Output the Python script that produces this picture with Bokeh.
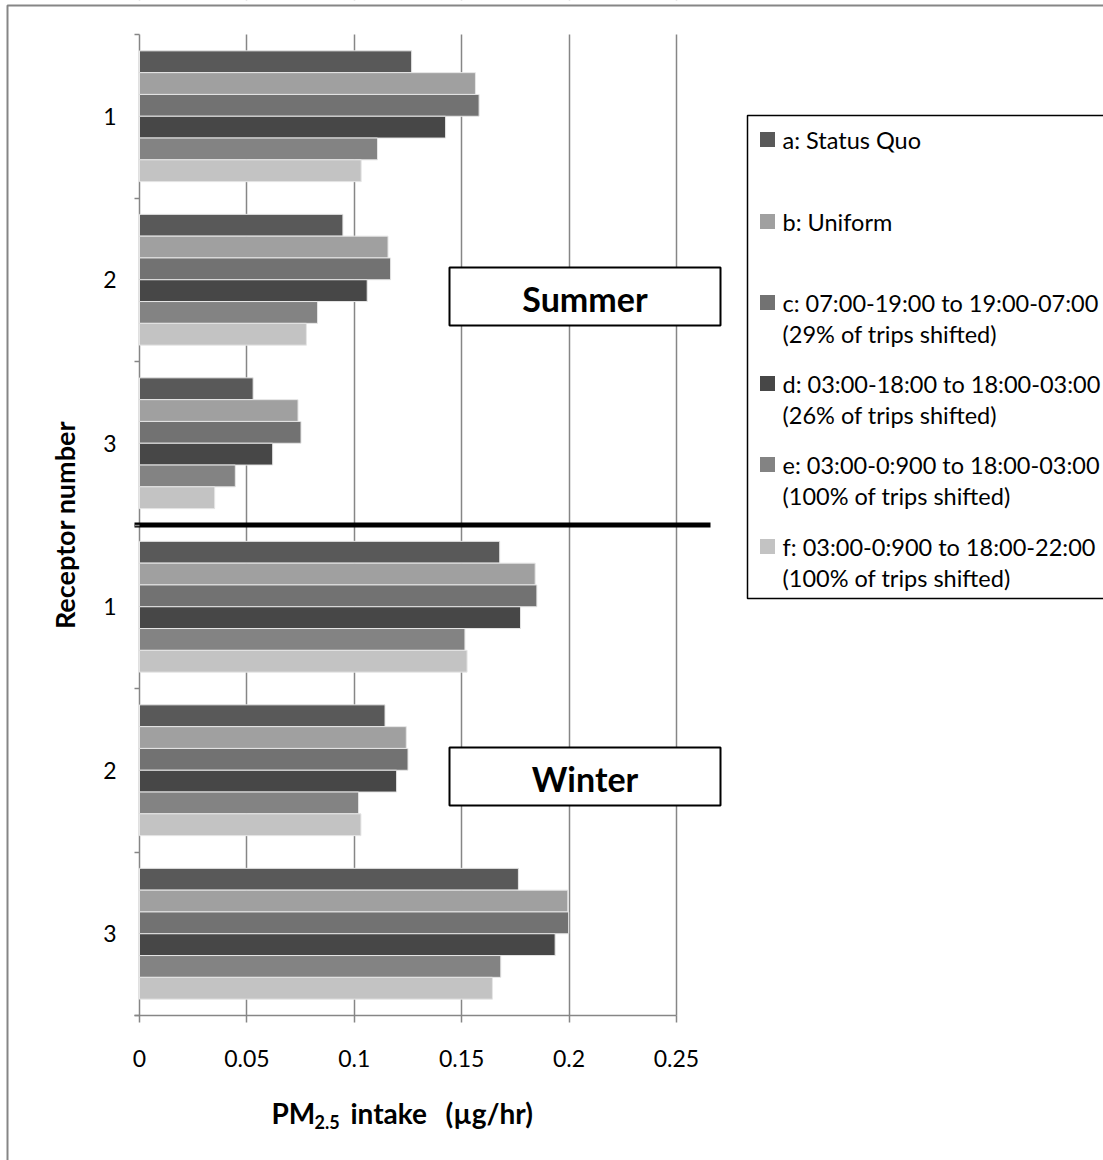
from bokeh.plotting import figure
from bokeh.models import Range1d, FixedTicker, ColumnDataSource, NumeralTickFormatter
from bokeh.core.properties import value
from bokeh.embed import file_html
from bokeh.resources import INLINE

# ---------------- data ----------------
receptors = ["1", "2", "3", "1", "2", "3"]
seasons = ["Summer", "Summer", "Summer", "Winter", "Winter", "Winter"]
series_names = ["a", "b", "c", "d", "e", "f"]
a_status_quo = [0.1267, 0.0947, 0.0529, 0.1677, 0.1143, 0.1764]
b_uniform = [0.1564, 0.1157, 0.0738, 0.1842, 0.1242, 0.1994]
c_0719 = [0.1581, 0.1169, 0.0752, 0.1850, 0.1250, 0.1998]
d_0318 = [0.1425, 0.1060, 0.0620, 0.1774, 0.1197, 0.1935]
e_0309_all = [0.1108, 0.0829, 0.0446, 0.1515, 0.1020, 0.1682]
f_0309_22 = [0.1032, 0.0777, 0.0350, 0.1525, 0.1031, 0.1643]
x_ticks = [0, 0.05, 0.1, 0.15, 0.2, 0.25]
legend_line1 = ["a: Status Quo", "b: Uniform",
                "c: 07:00-19:00 to 19:00-07:00",
                "d: 03:00-18:00 to 18:00-03:00",
                "e: 03:00-0:900 to 18:00-03:00",
                "f: 03:00-0:900 to 18:00-22:00"]
legend_line2 = ["", "", "(29% of trips shifted)", "(26% of trips shifted)",
                "(100% of trips shifted)", "(100% of trips shifted)"]
x_title = ["PM", "2.5", "intake", "(µg/hr)"]
y_title = "Receptor number"

all_series = [a_status_quo, b_uniform, c_0719, d_0318, e_0309_all, f_0309_22]
colors = ["#595959", "#a0a0a0", "#727272", "#474747", "#838383", "#c3c3c3"]

FONT = "Lato"
GRAY = "#868686"
W, H = 1103, 1160

# ---------------- layout helpers (pixel -> data, layout only) ----------------
PX0, PXU = 139.0, 2148.0   # x pixel of value 0, pixels per unit
PY0, PYU = 34.0, 163.5     # y pixel of first category top, pixels per category


def fx(px):
    return (px - PX0) / PXU


def fy(py):
    return (py - PY0) / PYU


p = figure(width=W, height=H, output_backend="svg", toolbar_location=None,
           x_range=Range1d(fx(0), fx(W)), y_range=Range1d(fy(H), fy(0)),
           min_border=0)
p.outline_line_color = None
p.background_fill_color = "white"
p.border_fill_color = "white"

# grid
p.ygrid.visible = False
p.xgrid.ticker = FixedTicker(ticks=x_ticks)
p.xgrid.grid_line_color = GRAY
p.xgrid.grid_line_width = 1.5

# masks so that the grid only spans the plot area
p.quad(left=[fx(0), fx(0)], right=[fx(W), fx(W)], top=[fy(0), 6],
       bottom=[0, fy(H)], fill_color="white", line_color=None)

# x axis (drawn at the bottom of the category area)
xa = p.xaxis[0]
xa.fixed_location = len(receptors)
xa.bounds = (fx(134), 0.25)
xa.ticker = FixedTicker(ticks=x_ticks, minor_ticks=[])
xa.formatter = NumeralTickFormatter(format="0.[00]")
xa.axis_line_color = GRAY
xa.axis_line_width = 1.5
xa.major_tick_line_color = GRAY
xa.major_tick_line_width = 1.5
xa.major_tick_out = 7
xa.major_tick_in = 0
xa.major_label_standoff = 27
xa.major_label_text_font = FONT
xa.major_label_text_font_size = "23px"
xa.major_label_text_color = "black"

# y axis
ya = p.yaxis[0]
ya.fixed_location = fx(134)
centers = [i + 0.5 for i in range(len(receptors))]
ya.bounds = (0, len(receptors))
ya.ticker = FixedTicker(ticks=centers, minor_ticks=list(range(len(receptors) + 1)))
ya.major_label_overrides = {c: r for c, r in zip(centers, receptors)}
ya.axis_line_color = None
ya.major_tick_out = 0
ya.major_tick_in = 0
ya.minor_tick_in = 5
ya.minor_tick_out = 0
ya.minor_tick_line_color = GRAY
ya.minor_tick_line_width = 1.5
ya.major_label_standoff = 18
ya.major_label_text_font = FONT
ya.major_label_text_font_size = "23px"
ya.major_label_text_color = "black"
ya.axis_label = y_title
ya.axis_label_text_font = FONT
ya.axis_label_text_font_style = "bold"
ya.axis_label_text_font_size = "27px"
ya.axis_label_text_color = "black"
ya.axis_label_standoff = 19

# bars
n = len(all_series)
group = 0.8
bh = group / n
for j, (vals, col) in enumerate(zip(all_series, colors)):
    ys = [i + (1 - group) / 2 + (j + 0.5) * bh for i in range(len(vals))]
    src = ColumnDataSource(dict(y=ys, right=vals, rec=receptors, season=seasons))
    p.hbar(y="y", left=0, right="right", height=bh, source=src,
           fill_color=col, line_color="#e6e6e6", line_width=1)

# season separator line
p.segment(x0=[fx(134)], x1=[fx(710)], y0=[3], y1=[3], line_color="black", line_width=5)

# season boxes
box_x = fx((449 + 720) / 2)
box_w = 271 / PXU
box_h = 58 / PYU
season_names = ["Summer", "Winter"]
box_ys = [fy(296), fy(776)]
p.rect(x=[box_x] * 2, y=box_ys, width=box_w, height=box_h,
       fill_color="white", line_color="black", line_width=2)
p.text(x=[box_x] * 2, y=[b + 2 / PYU for b in box_ys], text=season_names,
       text_font=value(FONT), text_font_style="bold", text_font_size="34px",
       text_align="center", text_baseline="middle", text_color="black")

# legend (drawn manually)
p.quad(left=[fx(747)], right=[fx(1200)], top=[fy(115)], bottom=[fy(598)],
       fill_color="white", line_color="black", line_width=1.5)
row_px = [139, 221, 302, 383, 464, 546]
p.scatter(x=[fx(767)] * n, y=[fy(r) for r in row_px], marker="square", size=15,
          fill_color=colors, line_color=None)
p.text(x=[fx(782)] * n, y=[fy(r) for r in row_px], text=legend_line1,
       text_font=value(FONT), text_font_size="23.5px", text_align="left",
       text_baseline="middle", text_color="black")
p.text(x=[fx(782)] * n, y=[fy(r + 31) for r in row_px], text=legend_line2,
       text_font=value(FONT), text_font_size="23.5px", text_align="left",
       text_baseline="middle", text_color="black")

# x axis title with subscript
p.text(x=[fx(271), fx(350), fx(445)], y=[fy(1112)] * 3,
       text=[x_title[0], x_title[2], x_title[3]],
       text_font=value(FONT), text_font_style="bold", text_font_size="28px",
       text_align="left", text_baseline="middle", text_color="black")
p.text(x=[fx(314)], y=[fy(1121)], text=[x_title[1]],
       text_font=value(FONT), text_font_style="bold", text_font_size="18px",
       text_align="left", text_baseline="middle", text_color="black")

# outer chart border (left and top edges visible)
p.line(x=[fx(7), fx(7), fx(W + 10)], y=[fy(H + 10), fy(5), fy(5)],
       line_color=GRAY, line_width=2)

open("out.html", "w").write(file_html(p, INLINE))
